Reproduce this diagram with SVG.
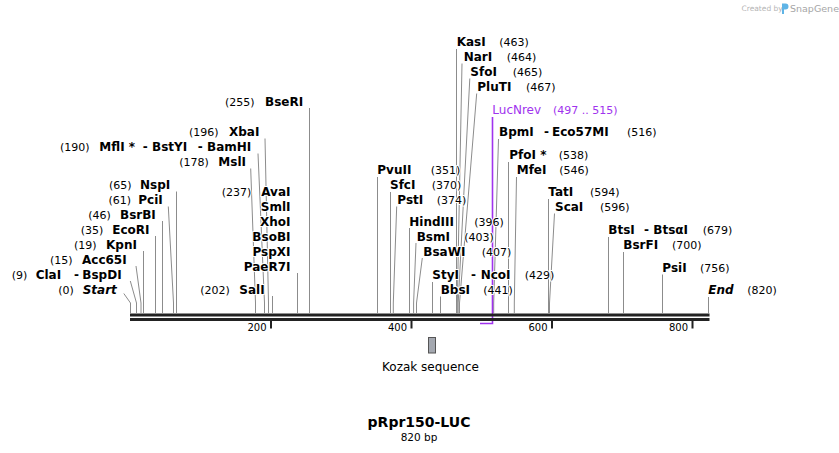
<svg xmlns="http://www.w3.org/2000/svg" width="839" height="453" viewBox="0 0 839 453">
<style>
text { font-family: "DejaVu Sans", Verdana, sans-serif; fill: #000; paint-order: stroke; stroke: #fff; stroke-width: 2px; stroke-linejoin: round; }
.n { font-size: 12px; font-weight: bold; }
.i { font-size: 12px; font-weight: bold; font-style: italic; }
.p { font-size: 11px; }
.t { font-size: 10px; stroke: none; }
.pr { font-size: 12px; fill: #a033ee; }
.prn { font-size: 11px; fill: #a033ee; }
.ln { stroke: #8c8c8c; stroke-width: 1; fill: none; }
.bb { fill: #222; }
.tk { fill: #222; }
</style>
<rect width="839" height="453" fill="#fff"/>

<g id="watermark">
<text x="741.5" y="10.5" style="font-size:7.5px;fill:#b4b4b4;stroke:none">Created by</text>
<path d="M782 3.5 h3.5 a3 3 0 0 1 0 6 h-1.5 v4.5 h-2 z" fill="#5fb4e6"/>
<text x="790" y="11.5" style="font-size:9.5px;fill:#a6a6a6;stroke:none">SnapGene</text>
</g>

<g id="connectors">
<line class="ln" x1="309.5" y1="108" x2="309.5" y2="313"/>
<polyline class="ln" points="265,138.5 268.5,303 268.5,313"/>
<polyline class="ln" points="258,153.5 264.5,303 264.5,313"/>
<polyline class="ln" points="250.7,168.5 255.5,303 255.5,313"/>
<line class="ln" x1="176.5" y1="191.5" x2="176.5" y2="313"/>
<line class="ln" x1="297.5" y1="273" x2="297.5" y2="313"/>
<polyline class="ln" points="168.3,206.5 173.5,303 173.5,313"/>
<line class="ln" x1="162.5" y1="221" x2="162.5" y2="313"/>
<line class="ln" x1="155.5" y1="236" x2="155.5" y2="313"/>
<line class="ln" x1="143.5" y1="251" x2="143.5" y2="313"/>
<polyline class="ln" points="136,266 141,303 141,313"/>
<polyline class="ln" points="130.3,281 136.5,303 136.5,313"/>
<polyline class="ln" points="123.8,293.5 130.5,303 130.5,313"/>
<line class="ln" x1="272.5" y1="296" x2="272.5" y2="313"/>

<line class="ln" x1="456.5" y1="49" x2="456.5" y2="313"/>
<polyline class="ln" points="462,63.5 457.3,303 457.3,313"/>
<polyline class="ln" points="469.8,78.5 458.2,303 458.2,313"/>
<polyline class="ln" points="476.7,93.5 459.5,303 459.5,313"/>
<polyline class="ln" points="498.5,139 493.7,303 493.7,313"/>
<line class="ln" x1="508.5" y1="162" x2="508.5" y2="313"/>
<polyline class="ln" points="516.5,177 514.3,303 514.3,313"/>
<line class="ln" x1="377.5" y1="177" x2="377.5" y2="313"/>
<line class="ln" x1="390.5" y1="192" x2="390.5" y2="313"/>
<polyline class="ln" points="396.7,206.5 393.3,303 393.3,313"/>
<line class="ln" x1="409.5" y1="228" x2="409.5" y2="313"/>
<polyline class="ln" points="416,243 413.6,303 413.6,313"/>
<polyline class="ln" points="422.3,258 416.5,303 416.5,313"/>
<line class="ln" x1="432.5" y1="282" x2="432.5" y2="313"/>
<line class="ln" x1="440.5" y1="296.5" x2="440.5" y2="313"/>
<line class="ln" x1="548.5" y1="199" x2="548.5" y2="313"/>
<polyline class="ln" points="554.5,213.5 549.5,303 549.5,313"/>
<line class="ln" x1="608.5" y1="237" x2="608.5" y2="313"/>
<line class="ln" x1="623.5" y1="252" x2="623.5" y2="313"/>
<line class="ln" x1="662.5" y1="274.5" x2="662.5" y2="313"/>
<line class="ln" x1="708.5" y1="297" x2="708.5" y2="313"/>

<polyline points="480,323.5 492.5,323.5 492.5,117" fill="none" stroke="#a033ee" stroke-width="1.6"/>
</g>

<g id="backbone">
<rect class="bb" x="130" y="313.5" width="579.5" height="3"/>
<rect class="bb" x="130" y="318" width="579.5" height="3"/>
<rect class="tk" x="270" y="321" width="2" height="7.5"/>
<rect class="tk" x="410.5" y="321" width="2" height="7.5"/>
<rect class="tk" x="551" y="321" width="2" height="7.5"/>
<rect class="tk" x="691.5" y="321" width="2" height="7.5"/>
<text class="t" x="266.5" y="331" text-anchor="end">200</text>
<text class="t" x="407" y="331" text-anchor="end">400</text>
<text class="t" x="547.5" y="331" text-anchor="end">600</text>
<text class="t" x="688" y="331" text-anchor="end">800</text>
</g>

<g id="kozak">
<rect x="428.5" y="337.5" width="7" height="15.5" fill="#a4a8b0" stroke="#555" stroke-width="1"/>
<text x="430.5" y="371" text-anchor="middle" style="font-size:12px">Kozak sequence</text>
</g>

<g id="l-BseRI"><text class="p" x="225" y="106">(255)</text><text class="n" x="265" y="106">BseRI</text></g>
<g id="l-XbaI"><text class="p" x="189" y="136">(196)</text><text class="n" x="229" y="136">XbaI</text></g>
<g id="l-MflI"><text class="p" x="60" y="151">(190)</text><text class="n" x="99.3" y="151">MflI *</text><text class="n" x="142.7" y="151">-</text><text class="n" x="152" y="151">BstYI</text><text class="n" x="197.7" y="151">-</text><text class="n" x="207" y="151">BamHI</text></g>
<g id="l-MslI"><text class="p" x="179.3" y="166">(178)</text><text class="n" x="218.3" y="166">MslI</text></g>
<g id="l-NspI"><text class="p" x="109" y="189">(65)</text><text class="n" x="140" y="189">NspI</text></g>
<g id="l-AvaI"><text class="p" x="221.7" y="196">(237)</text>
<text class="n" x="290.5" y="196" text-anchor="end">AvaI</text>
<text class="n" x="290.5" y="211" text-anchor="end">SmlI</text>
<text class="n" x="290.5" y="226" text-anchor="end">XhoI</text>
<text class="n" x="290.5" y="241" text-anchor="end">BsoBI</text>
<text class="n" x="290.5" y="256" text-anchor="end">PspXI</text>
<text class="n" x="290.5" y="271" text-anchor="end">PaeR7I</text></g>
<g id="l-PciI"><text class="p" x="108.5" y="204">(61)</text><text class="n" x="138.3" y="204">PciI</text></g>
<g id="l-BsrBI"><text class="p" x="88.3" y="218.5">(46)</text><text class="n" x="120" y="218.5">BsrBI</text></g>
<g id="l-EcoRI"><text class="p" x="80.7" y="233.5">(35)</text><text class="n" x="112.3" y="233.5">EcoRI</text></g>
<g id="l-KpnI"><text class="p" x="74" y="248.5">(19)</text><text class="n" x="106" y="248.5">KpnI</text></g>
<g id="l-Acc65I"><text class="p" x="50" y="263.5">(15)</text><text class="n" x="82" y="263.5">Acc65I</text></g>
<g id="l-ClaI"><text class="p" x="11.7" y="278.5">(9)</text><text class="n" x="35.7" y="278.5">ClaI</text><text class="n" x="74" y="278.5">-</text><text class="n" x="82.3" y="278.5">BspDI</text></g>
<g id="l-Start"><text class="p" x="58.3" y="293.5">(0)</text><text class="i" x="82.7" y="293.5">Start</text></g>
<g id="l-SalI"><text class="p" x="200.3" y="293.5">(202)</text><text class="n" x="239.3" y="293.5">SalI</text></g>

<g id="l-KasI"><text class="n" x="456.7" y="46">KasI</text><text class="p" x="499.3" y="46">(463)</text></g>
<g id="l-NarI"><text class="n" x="463.7" y="61">NarI</text><text class="p" x="506.7" y="61">(464)</text></g>
<g id="l-SfoI"><text class="n" x="470.3" y="76">SfoI</text><text class="p" x="512.7" y="76">(465)</text></g>
<g id="l-PluTI"><text class="n" x="477.3" y="91">PluTI</text><text class="p" x="526" y="91">(467)</text></g>
<g id="l-LucNrev"><text class="pr" x="492.3" y="113.5">LucNrev</text><text class="prn" x="553" y="113.5">(497 .. 515)</text></g>
<g id="l-BpmI"><text class="n" x="499" y="136">BpmI</text><text class="n" x="544" y="136">-</text><text class="n" x="552" y="136">Eco57MI</text><text class="p" x="627" y="136">(516)</text></g>
<g id="l-PfoI"><text class="n" x="509.3" y="159.3">PfoI *</text><text class="p" x="558.7" y="159.3">(538)</text></g>
<g id="l-MfeI"><text class="n" x="516.7" y="174">MfeI</text><text class="p" x="559.3" y="174">(546)</text></g>
<g id="l-PvuII"><text class="n" x="377.3" y="174">PvuII</text><text class="p" x="430.7" y="174">(351)</text></g>
<g id="l-SfcI"><text class="n" x="390" y="189">SfcI</text><text class="p" x="431.7" y="189">(370)</text></g>
<g id="l-PstI"><text class="n" x="397.3" y="204">PstI</text><text class="p" x="436.7" y="204">(374)</text></g>
<g id="l-HindIII"><text class="n" x="409.3" y="225.7">HindIII</text><text class="p" x="474.3" y="225.7">(396)</text></g>
<g id="l-BsmI"><text class="n" x="416.7" y="240.7">BsmI</text><text class="p" x="464.3" y="240.7">(403)</text></g>
<g id="l-BsaWI"><text class="n" x="423.3" y="255.7">BsaWI</text><text class="p" x="481.7" y="255.7">(407)</text></g>
<g id="l-StyI"><text class="n" x="432.3" y="279">StyI</text><text class="n" x="471" y="279">-</text><text class="n" x="480.7" y="279">NcoI</text><text class="p" x="524.7" y="279">(429)</text></g>
<g id="l-BbsI"><text class="n" x="440.7" y="294">BbsI</text><text class="p" x="483.3" y="294">(441)</text></g>
<g id="l-TatI"><text class="n" x="548.3" y="196">TatI</text><text class="p" x="590" y="196">(594)</text></g>
<g id="l-ScaI"><text class="n" x="555" y="210.7">ScaI</text><text class="p" x="600" y="210.7">(596)</text></g>
<g id="l-BtsI"><text class="n" x="608.3" y="234">BtsI</text><text class="n" x="644" y="234">-</text><text class="n" x="653.3" y="234">BtsαI</text><text class="p" x="702.7" y="234">(679)</text></g>
<g id="l-BsrFI"><text class="n" x="623.3" y="249">BsrFI</text><text class="p" x="672" y="249">(700)</text></g>
<g id="l-PsiI"><text class="n" x="662.3" y="271.7">PsiI</text><text class="p" x="700" y="271.7">(756)</text></g>
<g id="l-End"><text class="i" x="708.3" y="293.5">End</text><text class="p" x="747.3" y="293.5">(820)</text></g>

<g id="title">
<text x="419" y="427" text-anchor="middle" style="font-size:14px;font-weight:bold">pRpr150-LUC</text>
<text x="419" y="441" text-anchor="middle" style="font-size:10.5px">820 bp</text>
</g>
</svg>
